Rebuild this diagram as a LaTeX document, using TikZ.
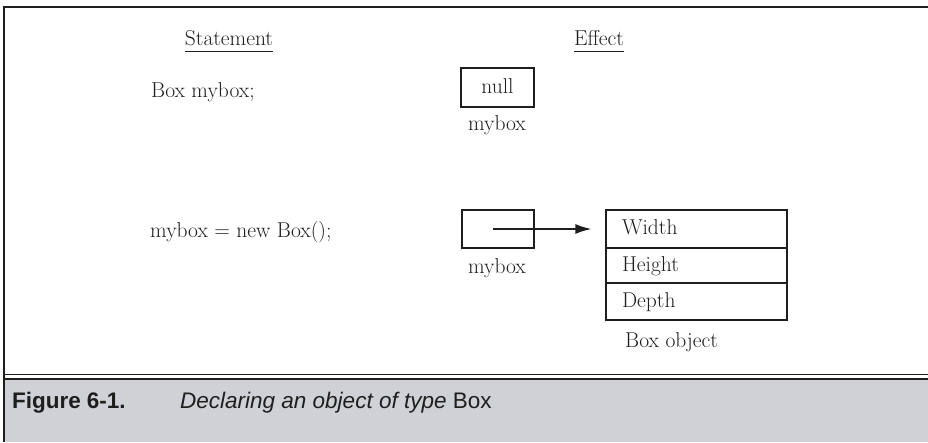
\documentclass[tikz,border=0pt]{standalone}
\usepackage{fontspec}
\newfontfamily\capfont{Liberation Sans}
\usetikzlibrary{arrows.meta}
\definecolor{capgray}{RGB}{208,209,214}
\definecolor{inkdark}{RGB}{30,30,30}

\begin{document}
\begin{tikzpicture}[x=1pt, y=-1pt,
    txt/.style={font=\fontsize{21.5}{25}\selectfont, inner sep=0pt, text=inkdark},
    cell/.style={txt, draw=inkdark, line width=1.3pt, text height=15pt, text depth=4pt},
    field/.style={cell, inner xsep=16pt, text width=149pt, align=left},
    capt/.style={font=\capfont\fontsize{22.5}{26}\selectfont, inner sep=0pt, text=inkdark}
  ]
  \useasboundingbox (0,0) rectangle (928,442);
  % Frame and caption panel
  \fill[capgray] (5,378) rectangle (928,442);
  \draw[inkdark, line width=2pt] (4,442) -- (4,7) -- (928,7);
  \draw[inkdark, line width=1.5pt] (4,374.5) -- (928,374.5);
  \draw[inkdark, line width=2pt] (4,378.5) -- (928,378.5);

  % Headings
  \node[txt, anchor=base] (stmt) at (229,45) {Statement};
  \draw[inkdark, line width=1pt] ([yshift=-6pt]stmt.south west) -- ([yshift=-6pt]stmt.south east);
  \node[txt, anchor=base] (effect) at (599,45) {Effect};
  \draw[inkdark, line width=1pt] ([yshift=-6pt]effect.south west) -- ([yshift=-6pt]effect.south east);

  % Declaration
  \node[txt, anchor=base west] (decl) at (151,97) {Box mybox;};
  \node[cell, minimum width=73pt, minimum height=39pt] (nullbox) at (497.5,87.5) {null};
  \node[txt, anchor=base] (ref1) at (497,130) {mybox};

  % Allocation
  \node[txt, anchor=base west] (alloc) at (150,237) {mybox = new Box();};
  \node[cell, minimum width=72pt, minimum height=38pt] (ptr) at (498,229) {};
  \node[txt, anchor=base] (ref2) at (497,273) {mybox};

  % Box object
  \node[field, minimum height=38pt] (wfield) at (696.5,229) {Width};
  \node[field, minimum height=35pt] (hfield) at (696.5,265.5) {Height};
  \node[field, minimum height=37pt] (dfield) at (696.5,301.5) {Depth};
  \node[txt, anchor=base west] (objlabel) at (625,347) {Box object};

  \draw[inkdark, line width=1.5pt, -{Latex[length=16pt,width=10pt]}] ([xshift=-5pt]ptr.center) -- ([xshift=-14pt]wfield.west);

  % Caption
  \node[capt, anchor=base west] (figlabel) at (12,408) {\bfseries Figure\hspace{6pt}6-1.};
  \node[capt, anchor=base west] (captext) at (180,408) {\itshape Declaring an object of type \upshape Box};
\end{tikzpicture}
\end{document}
